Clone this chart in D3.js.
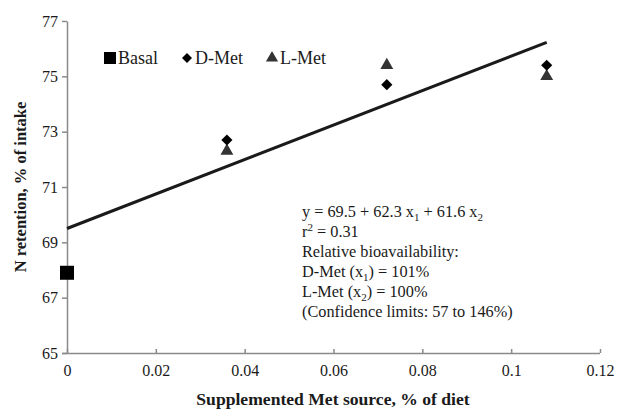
<!doctype html>
<html lang="en">
<head>
<meta charset="utf-8">
<title>N retention vs Met source</title>
<style>
  body { margin: 0; background: #fff; }
  text { font-family: "Liberation Serif", "Times New Roman", serif; fill: #1a1a1a; }
  .axis path, .axis line { stroke: #8a8a8a; stroke-width: 1.5px; }
  .axis text { font-size: 16px; }
  .label { font-weight: bold; }
  .note { font-size: 16.3px; }
</style>
</head>
<body>
<svg width="617" height="411"></svg>
<script src="https://cdn.jsdelivr.net/npm/d3@7"></script>
<script>
// data
var basal = [ { x: 0, y: 67.9 } ];
var dMet = [ { x: 0.036, y: 72.7 }, { x: 0.072, y: 74.7 }, { x: 0.108, y: 75.4 } ];
var lMet = [ { x: 0.036, y: 72.3 }, { x: 0.072, y: 75.4 }, { x: 0.108, y: 75.0 } ];
var fitLine = [ { x: 0, y: 69.5 }, { x: 0.108, y: 76.23 } ];
var xTicks = [ 0, 0.02, 0.04, 0.06, 0.08, 0.1, 0.12 ];
var yTicks = [ 65, 67, 69, 71, 73, 75, 77 ];
var legendItems = [ "Basal", "D-Met", "L-Met" ];

var svg = d3.select("svg");
var x = d3.scaleLinear().domain([ 0, 0.12 ]).range([ 67, 600 ]);
var y = d3.scaleLinear().domain([ 65, 77 ]).range([ 353, 21 ]);

// x axis, ticks pointing inward
var gx = svg.append("g").attr("class", "axis")
  .attr("transform", "translate(0,353)")
  .call(d3.axisBottom(x).tickValues(xTicks).tickSize(-4).tickSizeOuter(0)
    .tickFormat(d => d3.format("~g")(d)));
gx.selectAll("text").attr("y", 12);
gx.select(".domain").attr("d", "M62,0.5H600");

var gy = svg.append("g").attr("class", "axis")
  .attr("transform", "translate(67,0)")
  .call(d3.axisLeft(y).tickValues(yTicks).tickSize(5).tickSizeOuter(0));
gy.selectAll("text").attr("x", -9);

// regression line
svg.append("path")
  .datum(fitLine)
  .attr("d", d3.line().x(d => x(d.x)).y(d => y(d.y)))
  .attr("stroke", "#1a1a1a").attr("stroke-width", 3).attr("fill", "none");

var diamond = s => d3.symbol().type(d3.symbolSquare).size(s);
var sym = {
  Basal: [ d3.symbol().type(d3.symbolSquare).size(196), 0 ],
  "D-Met": [ diamond(62), 45 ],
  "L-Met": [ d3.symbol().type(d3.symbolTriangle).size(72), 0 ]
};
var col = { Basal: "#000", "D-Met": "#000", "L-Met": "#333" };

function drawPts(data, key) {
  svg.selectAll(null).data(data).enter().append("path")
    .attr("d", sym[key][0]())
    .attr("fill", col[key])
    .attr("transform", d => "translate(" + x(d.x) + "," + y(d.y) + ") rotate(" + sym[key][1] + ")");
}
drawPts(lMet, "L-Met");
drawPts(dMet, "D-Met");
drawPts(basal, "Basal");

// legend
var legX = [ 110, 187, 272 ];
var legendSym = {
  Basal: [ d3.symbol().type(d3.symbolSquare).size(144), 0 ],
  "D-Met": [ diamond(50), 45 ],
  "L-Met": [ d3.symbol().type(d3.symbolTriangle).size(64), 0 ]
};
legendItems.forEach((k, i) => {
  svg.append("path").attr("d", legendSym[k][0]()).attr("fill", col[k])
    .attr("transform", "translate(" + legX[i] + ",58) rotate(" + legendSym[k][1] + ")");
  svg.append("text").attr("x", legX[i] + 8).attr("y", 64)
    .style("font-size", "18px").text(k);
});

// annotation
var note = svg.append("text").attr("class", "note");
var lines = [
  [ [ "y =  69.5 + 62.3 x" ], [ "1", "sub" ], [ " + 61.6 x" ], [ "2", "sub" ] ],
  [ [ "r" ], [ "2", "sup" ], [ " = 0.31" ] ],
  [ [ "Relative bioavailability:" ] ],
  [ [ "D-Met (x" ], [ "1", "sub" ], [ ") = 101%" ] ],
  [ [ "L-Met (x" ], [ "2", "sub" ], [ ") = 100%" ] ],
  [ [ "(Confidence limits: 57 to 146%)" ] ]
];
lines.forEach((ln, i) => {
  var base = 217 + i * 20;
  ln.forEach((part, j) => {
    var t = note.append("tspan").text(part[0]);
    if (j === 0) t.attr("x", 302);
    var dy = part[1] === "sub" ? 4 : part[1] === "sup" ? -6 : 0;
    t.attr("y", base + dy);
    if (part[1]) t.style("font-size", "11px");
  });
});

// axis titles
svg.append("text").attr("class", "label")
  .attr("text-anchor", "middle")
  .style("font-size", "16.5px")
  .attr("transform", "translate(26,187) rotate(-90)")
  .text("N retention, % of intake");
svg.append("text").attr("class", "label")
  .attr("text-anchor", "middle")
  .style("font-size", "17.6px")
  .attr("x", 333).attr("y", 405)
  .text("Supplemented Met source, % of diet");
</script>
</body>
</html>
